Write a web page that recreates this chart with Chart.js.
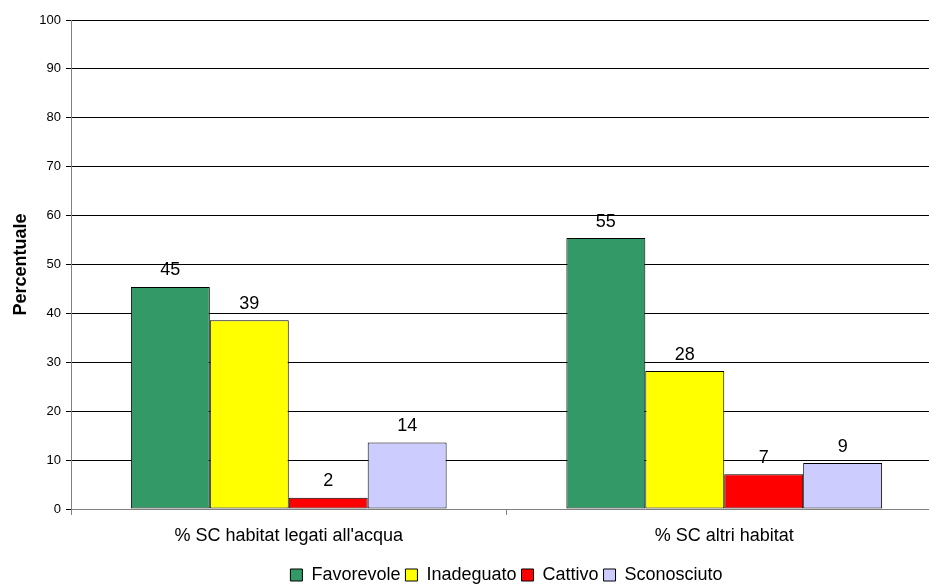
<!DOCTYPE html>
<html>
<head>
<meta charset="utf-8">
<script src="https://cdn.jsdelivr.net/npm/chart.js@4.4.1/dist/chart.umd.min.js"></script>
<style>
  html, body { margin: 0; padding: 0; background: #fff; overflow: hidden; }
  #wrap { position: relative; width: 942px; height: 585px; }
</style>
</head>
<body>
<div id="wrap"><canvas id="c"></canvas></div>
<script>
const categories = ["% SC habitat legati all'acqua", "% SC altri habitat"];
const seriesNames = ["Favorevole", "Inadeguato", "Cattivo", "Sconosciuto"];
const favorevole = [45.4, 55.4];
const inadeguato = [38.6, 28.2];
const cattivo = [2.3, 7.1];
const sconosciuto = [13.6, 9.4];
const yTicks = [0, 10, 20, 30, 40, 50, 60, 70, 80, 90, 100];

const colors = ['#339966', '#FFFF00', '#FF0000', '#CCCCFF'];
const seriesValues = [favorevole, inadeguato, cattivo, sconosciuto];
const FONT = "'Liberation Sans', Arial, sans-serif";

Chart.defaults.font.family = FONT;
Chart.defaults.color = '#000';

const dataLabels = {
  id: 'dataLabels',
  afterDatasetsDraw(chart) {
    const ctx = chart.ctx;
    ctx.save();
    ctx.font = '18px ' + FONT;
    ctx.fillStyle = '#000';
    ctx.textAlign = 'center';
    ctx.textBaseline = 'alphabetic';
    chart.data.datasets.forEach((ds, i) => {
      const meta = chart.getDatasetMeta(i);
      meta.data.forEach((bar, j) => {
        ctx.fillText(String(Math.round(ds.data[j])), bar.x, bar.y - 11.5);
      });
    });
    ctx.restore();
  }
};

const legendFit = {
  id: 'legendFit',
  beforeLayout(chart) {
    const lg = chart.legend;
    if (lg && !lg._patched) {
      const orig = lg.fit;
      lg.fit = function () { orig.call(this); this.height = 24; };
      lg._patched = true;
    }
  }
};

new Chart(document.getElementById('c'), {
  type: 'bar',
  data: {
    labels: categories,
    datasets: seriesNames.map((name, i) => ({
      label: name,
      data: seriesValues[i],
      backgroundColor: colors[i],
      borderColor: '#000',
      borderWidth: 1,
      borderSkipped: false,
      categoryPercentage: 0.725,
      barPercentage: 1
    }))
  },
  options: {
    responsive: true,
    maintainAspectRatio: false,
    animation: false,
    layout: { padding: { left: 0, right: 0, top: 20, bottom: 0 } },
    plugins: {
      tooltip: { enabled: false },
      legend: {
        display: true,
        position: 'bottom',
        fullSize: false,
        labels: {
          boxWidth: 12,
          boxHeight: 12,
          padding: 5,
          color: '#000',
          font: { size: 18, family: FONT }
        }
      }
    },
    scales: {
      x: {
        afterFit(scale) { scale.height = 52; },
        grid: {
          display: true,
          drawOnChartArea: false,
          offset: true,
          tickLength: 6,
          color: '#808080'
        },
        border: { display: true, color: '#808080', width: 1 },
        ticks: {
          padding: 10,
          color: '#000',
          font: { size: 18, family: FONT },
          maxRotation: 0
        }
      },
      y: {
        min: 0,
        max: 100,
        afterFit(scale) { scale.width = 71; },
        afterBuildTicks(scale) { scale.ticks = yTicks.map(v => ({ value: v })); },
        grid: {
          color: '#000',
          tickLength: 5,
          drawTicks: true
        },
        border: { display: true, color: '#808080', width: 1 },
        ticks: {
          padding: 5,
          color: '#000',
          font: { size: 13, family: FONT }
        },
        title: {
          display: true,
          text: 'Percentuale',
          color: '#000',
          padding: { top: 10, bottom: 0 },
          font: { size: 18, weight: 'bold', family: FONT }
        }
      }
    }
  },
  plugins: [dataLabels, legendFit]
});
</script>
</body>
</html>
